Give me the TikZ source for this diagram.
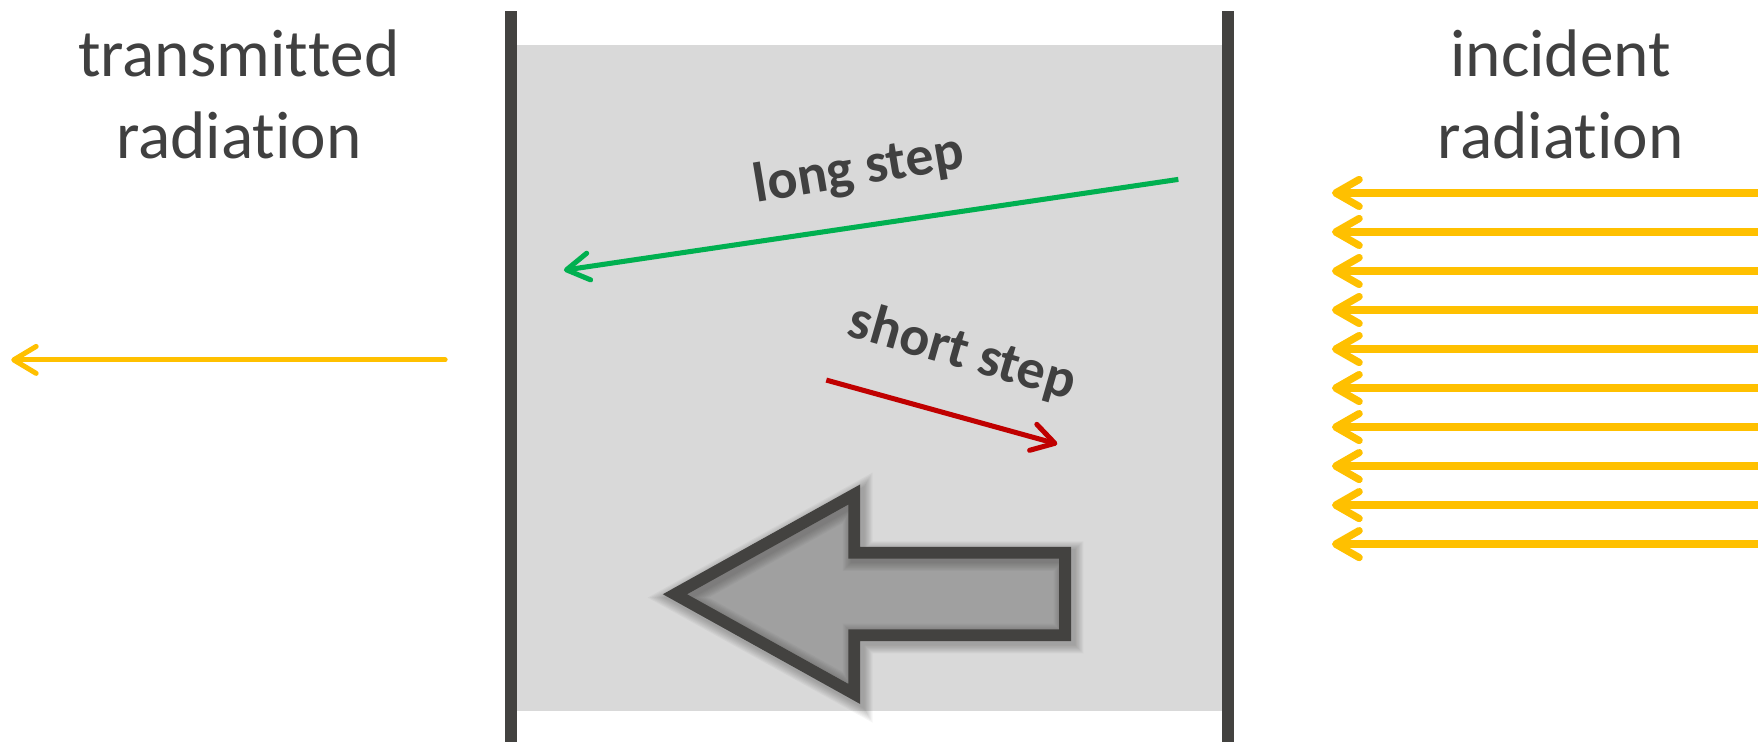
\documentclass[tikz,border=0pt]{standalone}
\usepackage{fontspec}
\setmainfont{Carlito}[Ligatures={NoCommon,NoRequired,NoContextual}, RawFeature={-liga;-clig;-dlig}]
\usetikzlibrary{arrows.meta}
\definecolor{wallc}{HTML}{434240}
\definecolor{boxc}{HTML}{D9D9D9}
\definecolor{yel}{HTML}{FFC000}
\definecolor{grn}{HTML}{00B050}
\definecolor{redc}{HTML}{C00000}
\definecolor{txtc}{HTML}{404040}
\definecolor{fillc}{HTML}{A0A0A0}
\newcommand{\blkpath}{(602,530) -- (762,441) -- (762,493) -- (950,493) -- (950,566.5) -- (762,566.5) -- (762,619) -- cycle}
\begin{document}
\begin{tikzpicture}[x=1pt,y=-1pt,
  wall/.style={draw=wallc, line width=10.5pt},
  ray/.style={draw=yel, line width=6.5pt, line cap=round, -{Straight Barb[round,length=21pt,width=24pt]}},
  outray/.style={draw=yel, line width=4.5pt, line cap=round, -{Straight Barb[round,length=20pt,width=24pt]}},
  greenstep/.style={draw=grn, line width=4.5pt, -{Straight Barb[round,length=20pt,width=24pt]}},
  redstep/.style={draw=redc, line width=4.5pt, -{Straight Barb[round,length=20pt,width=24pt]}},
  title/.style={text=txtc, font=\fontsize{60}{72}\selectfont, anchor=base, inner sep=0pt},
  steplabel/.style={text=txtc, font=\bfseries\fontsize{50}{60}\selectfont, inner sep=0pt},
  block/.style={draw=wallc, line width=10.5pt, line join=miter},
]
\useasboundingbox (0,0) rectangle (1568,661);
% medium
\fill[boxc] (455,40) rectangle (1095,634);
\draw[wall] (455.5,10) -- (455.5,670);
\draw[wall] (1095.5,10) -- (1095.5,670);
% titles
\node[title] (t1) at (213,68) {transmit\kern0pt t\kern0pt ed};
\node[title] (t2) at (213,141) {radiat\kern0pt ion};
\node[title] (i1) at (1392,68) {incident};
\node[title] (i2) at (1392,141) {radiat\kern0pt ion};
% incident rays
\foreach \i in {0,...,9} {
  \pgfmathsetmacro\yy{172.1+34.8*\i}
  \coordinate (src\i) at (1575,\yy);
  \coordinate (dst\i) at (1188,\yy);
  \draw[ray] (src\i) -- (dst\i);
}
% transmitted ray
\coordinate (ts) at (397,321);
\coordinate (te) at (10,321);
\draw[outray] (ts) -- (te);
% steps
\coordinate (ls) at (1051,160);
\coordinate (le) at (503,241);
\draw[greenstep] (ls) -- (le);
\node[steplabel, rotate=9.5] (longlbl) at (766,152) {long step};
\coordinate (ss) at (737,339);
\coordinate (se) at (943,396);
\draw[redstep] (ss) -- (se);
\node[steplabel, rotate=-16] (shortlbl) at (858,315) {short step};
% block arrow
\fill[fillc] \blkpath;
\begin{scope}[shift={(3,3)}]
\foreach \k in {1,...,8} {
  \draw[wallc, opacity=0.05, line width={10.5+2*\k}, line join=miter] \blkpath;
}
\end{scope}
\draw[block] \blkpath;
\end{tikzpicture}
\end{document}
